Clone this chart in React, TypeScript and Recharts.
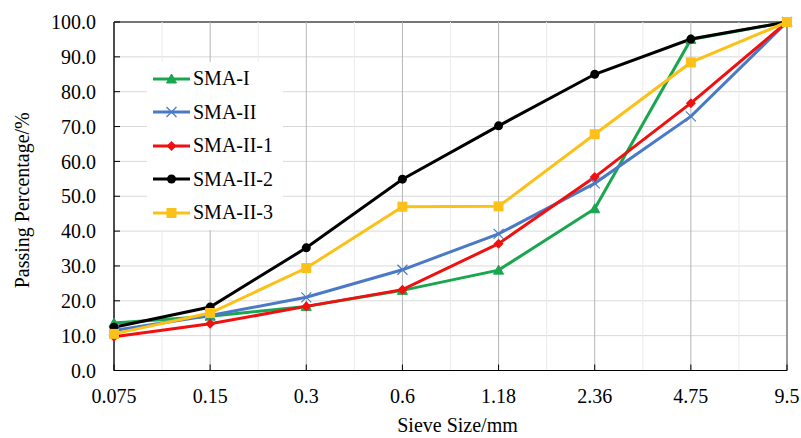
import React from "react";
import {
  LineChart,
  Line,
  XAxis,
  YAxis,
  CartesianGrid,
  ReferenceLine,
  ReferenceArea,
  Label,
} from "recharts";

const sieveSizes = ["0.075", "0.15", "0.3", "0.6", "1.18", "2.36", "4.75", "9.5"];
const yTicks = [0, 10, 20, 30, 40, 50, 60, 70, 80, 90, 100];

const smaI = [13.6, 15.6, 18.4, 23.0, 28.8, 46.4, 95.0, 100];
const smaII = [11.5, 15.8, 21.0, 28.9, 39.2, 53.7, 72.9, 100];
const smaII1 = [9.7, 13.4, 18.4, 23.2, 36.4, 55.5, 76.7, 100];
const smaII2 = [12.4, 18.2, 35.2, 54.9, 70.2, 85.0, 95.1, 100];
const smaII3 = [10.5, 16.5, 29.4, 47.0, 47.1, 67.8, 88.4, 100];

type Shape = "triangle" | "cross" | "diamond" | "circle" | "square";

const series: { key: string; name: string; color: string; shape: Shape; values: number[] }[] = [
  { key: "smaI", name: "SMA-I", color: "#1aa64f", shape: "triangle", values: smaI },
  { key: "smaII", name: "SMA-II", color: "#4a7ac6", shape: "cross", values: smaII },
  { key: "smaII1", name: "SMA-II-1", color: "#f01010", shape: "diamond", values: smaII1 },
  { key: "smaII2", name: "SMA-II-2", color: "#000000", shape: "circle", values: smaII2 },
  { key: "smaII3", name: "SMA-II-3", color: "#fcc118", shape: "square", values: smaII3 },
];

const data = sieveSizes.map((size, i) => {
  const row: Record<string, number | string> = { pos: i, size };
  series.forEach((s) => {
    row[s.key] = s.values[i];
  });
  return row;
});

const majorTicks = sieveSizes.map((_, i) => i);
const minorTicks = sieveSizes.slice(1).map((_, i) => i + 0.5);

const FONT = '"Liberation Serif", "Times New Roman", serif';

function Marker({ cx, cy, shape, color }: { cx: number; cy: number; shape: Shape; color: string }) {
  if (cx == null || cy == null) return null;
  switch (shape) {
    case "triangle":
      return (
        <polygon
          points={`${cx},${cy - 5} ${cx + 5},${cy + 4} ${cx - 5},${cy + 4}`}
          fill={color}
          stroke={color}
        />
      );
    case "cross":
      return (
        <g stroke={color} strokeWidth={1.2}>
          <line x1={cx - 5} y1={cy - 5} x2={cx + 5} y2={cy + 5} />
          <line x1={cx - 5} y1={cy + 5} x2={cx + 5} y2={cy - 5} />
        </g>
      );
    case "diamond":
      return (
        <polygon
          points={`${cx},${cy - 5} ${cx + 5},${cy} ${cx},${cy + 5} ${cx - 5},${cy}`}
          fill={color}
        />
      );
    case "circle":
      return <circle cx={cx} cy={cy} r={4.5} fill={color} />;
    case "square":
      return <rect x={cx - 5} y={cy - 5} width={10} height={10} fill={color} />;
  }
  return null;
}

function LegendBox() {
  return (
    <div
      style={{
        position: "absolute",
        left: 147,
        top: 62,
        width: 136,
        background: "#fff",
        paddingTop: 0,
        fontFamily: FONT,
        fontSize: 20,
        color: "#000",
      }}
    >
      {series.map((s) => (
        <div
          key={s.key}
          style={{ display: "flex", alignItems: "center", height: 33.5, whiteSpace: "nowrap" }}
        >
          <svg width={46} height={20} style={{ flex: "none" }}>
            <line x1={6} y1={10} x2={43} y2={10} stroke={s.color} strokeWidth={3} />
            <Marker cx={24.5} cy={10} shape={s.shape} color={s.color} />
          </svg>
          <span>{s.name}</span>
        </div>
      ))}
    </div>
  );
}

export default function App() {
  return (
    <div style={{ position: "absolute", left: 0, top: 0, width: 801, height: 438, background: "#fff" }}>
      <LineChart
        width={801}
        height={438}
        data={data}
        margin={{ top: 22, right: 14, left: 0, bottom: 0 }}
        style={{ fontFamily: FONT }}
      >
        <CartesianGrid horizontal vertical={false} stroke="#d9d9d9" strokeWidth={1} />
        {minorTicks.map((t) => (
          <ReferenceLine key={`m${t}`} x={t} stroke="#ebebeb" strokeWidth={1} />
        ))}
        {majorTicks.map((t) => (
          <ReferenceLine key={`M${t}`} x={t} stroke="#b5b5b5" strokeWidth={1} />
        ))}
        <ReferenceArea x1={0} x2={7} y1={0} y2={100} fill="none" stroke="#000" strokeWidth={1} />
        <XAxis
          dataKey="pos"
          type="number"
          domain={[0, 7]}
          ticks={majorTicks}
          tickFormatter={(v: number) => sieveSizes[v]}
          height={67.5}
          interval={0}
          tickSize={-6}
          tickMargin={24}
          axisLine={{ stroke: "#000" }}
          tickLine={{ stroke: "#000" }}
          tick={{ fill: "#000", fontSize: 20, fontFamily: FONT }}
        >
          <Label
            value="Sieve Size/mm"
            position="insideBottom"
            offset={6}
            dx={7}
            style={{ fill: "#000", fontSize: 20, fontFamily: FONT }}
          />
        </XAxis>
        <YAxis
          type="number"
          domain={[0, 100]}
          ticks={yTicks}
          interval={0}
          width={114}
          tickSize={-6}
          tickMargin={24}
          tickFormatter={(v: number) => v.toFixed(1)}
          axisLine={{ stroke: "#000" }}
          tickLine={{ stroke: "#000" }}
          tick={{ fill: "#000", fontSize: 20, fontFamily: FONT }}
        >
          <Label
            value="Passing Percentage/%"
            position="insideLeft"
            angle={-90}
            offset={22}
            dy={4}
            style={{ fill: "#000", fontSize: 20, fontFamily: FONT, textAnchor: "middle" }}
          />
        </YAxis>
        {series.map((s) => (
          <Line
            key={s.key}
            dataKey={s.key}
            name={s.name}
            type="linear"
            stroke={s.color}
            strokeWidth={3}
            isAnimationActive={false}
            dot={(p: any) => (
              <Marker key={`${s.key}-${p.index}`} cx={p.cx} cy={p.cy} shape={s.shape} color={s.color} />
            )}
            activeDot={false}
          />
        ))}
      </LineChart>
      <LegendBox />
    </div>
  );
}
